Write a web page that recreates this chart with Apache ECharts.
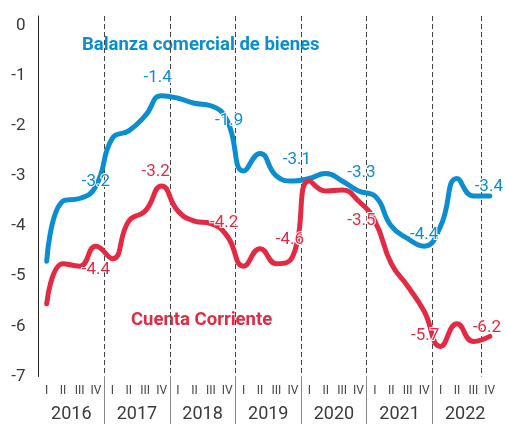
<!DOCTYPE html>
<html>
<head>
<meta charset="utf-8">
<script src="https://cdn.jsdelivr.net/npm/echarts@6/dist/echarts.min.js"></script>
<style>
  html, body { margin: 0; padding: 0; background: #fff; }
  #chart { width: 505px; height: 424px; }
</style>
</head>
<body>
<div id="chart"></div>
<script>
// Quarterly series, % of GDP (rolling four quarters), 2016 Q1 – 2022 Q4
const years = ['2016', '2017', '2018', '2019', '2020', '2021', '2022'];
const quarterNames = ['I', 'II', 'III', 'IV'];

const balanzaBienes = [
  -4.7, -3.5, -3.45, -3.2,
  -2.25, -2.1, -1.8, -1.4,
  -1.45, -1.55, -1.6, -1.9,
  -2.9, -2.55, -3.0, -3.1,
  -3.05, -2.95, -3.1, -3.3,
  -3.4, -4.0, -4.25, -4.4,
  -4.0, -3.05, -3.4, -3.4
];

const cuentaCorriente = [
  -5.55, -4.75, -4.8, -4.4,
  -4.65, -3.9, -3.7, -3.2,
  -3.7, -3.9, -3.95, -4.2,
  -4.8, -4.45, -4.75, -4.6,
  -3.1, -3.3, -3.28, -3.5,
  -3.9, -4.75, -5.2, -5.7,
  -6.4, -5.95, -6.3, -6.2
];

const yMin = -7;
const yMax = 0.19;
const yStep = 1;

const BLUE = '#0b8dd2';
const RED = '#e42a43';
const FONT = 'Roboto, "Noto Sans", sans-serif';

// one category per quarter
const quarters = [];
years.forEach(y => quarterNames.forEach(q => quarters.push(y + ' ' + q)));

// year-end value labels: pixel nudges so they sit clear of the lines
const blueLabelOffsets = [[0, -4], [-4, -18], [2, 0], [4, -21], [3, -18], [0, -11], [-1, -9]];
const redLabelOffsets = [[0, 24], [-6, -14], [-3, -13], [-3, -16], [3, 20], [1, 24], [-3, -9]];

function withYearEndLabels(values, offsets, color) {
  return values.map((v, i) => {
    if (i % 4 !== 3) return v;
    const off = offsets[(i - 3) / 4];
    return {
      value: v,
      label: {
        show: true,
        position: 'inside',
        offset: off,
        formatter: p => p.value.toFixed(1),
        color: color,
        fontFamily: FONT,
        fontSize: 17,
        textBorderColor: '#fff',
        textBorderWidth: 2
      }
    };
  });
}

const chart = echarts.init(document.getElementById('chart'), null, { renderer: 'canvas' });

chart.setOption({
  animation: false,
  backgroundColor: '#fff',
  grid: [
    { left: 38.5, right: 7, top: 16, bottom: 47.5, outerBoundsMode: 'none' },
    { left: 38.5, right: 7, top: 377, bottom: 0, outerBoundsMode: 'none' }
  ],
  xAxis: [
    {
      type: 'category',
      gridIndex: 0,
      data: quarters,
      boundaryGap: true,
      axisLine: { show: false },
      axisTick: { show: false },
      axisLabel: {
        interval: 0,
        margin: 8,
        color: '#444',
        fontFamily: FONT,
        fontSize: 12,
        formatter: v => v.split(' ')[1]
      },
      splitLine: {
        show: true,
        interval: 3,
        showMinLine: false,
        showMaxLine: false,
        lineStyle: { color: '#444', width: 1, type: [5, 3] }
      }
    },
    {
      type: 'category',
      gridIndex: 1,
      data: years,
      boundaryGap: true,
      position: 'bottom',
      axisLine: { show: false },
      axisTick: { show: false },
      axisLabel: {
        inside: true,
        margin: 1,
        color: '#3a3a3a',
        fontFamily: FONT,
        fontSize: 18
      },
      splitLine: {
        show: true,
        interval: 0,
        showMinLine: false,
        showMaxLine: false,
        lineStyle: { color: '#888', width: 1, type: 'solid' }
      }
    }
  ],
  yAxis: [
    {
      type: 'value',
      gridIndex: 0,
      min: yMin,
      max: yMax,
      interval: yStep,
      axisLine: { show: true, lineStyle: { color: '#222', width: 1 } },
      axisTick: { show: false },
      splitLine: { show: false },
      axisLabel: {
        margin: 13,
        color: '#3a3a3a',
        fontFamily: FONT,
        fontSize: 17,
        formatter: v => (Number.isInteger(Math.round(v * 1000) / 1000) ? String(Math.round(v)) : '')
      }
    },
    {
      type: 'value',
      gridIndex: 1,
      show: false,
      min: 0,
      max: 1
    }
  ],
  series: [
    {
      name: 'Balanza comercial de bienes',
      type: 'line',
      xAxisIndex: 0,
      yAxisIndex: 0,
      data: withYearEndLabels(balanzaBienes, blueLabelOffsets, BLUE),
      smooth: 0.5,
      symbol: 'circle',
      symbolSize: 0,
      showSymbol: true,
      showAllSymbol: true,
      lineStyle: { color: BLUE, width: 5, cap: 'round', join: 'round' },
      itemStyle: { color: BLUE },
      z: 3
    },
    {
      name: 'Cuenta Corriente',
      type: 'line',
      xAxisIndex: 0,
      yAxisIndex: 0,
      data: withYearEndLabels(cuentaCorriente, redLabelOffsets, RED),
      smooth: 0.5,
      symbol: 'circle',
      symbolSize: 0,
      showSymbol: true,
      showAllSymbol: true,
      lineStyle: { color: RED, width: 5, cap: 'round', join: 'round' },
      itemStyle: { color: RED },
      z: 4
    }
  ],
  graphic: [
    {
      type: 'text',
      left: 82,
      top: 36,
      style: { text: 'Balanza comercial de bienes', fill: BLUE, font: 'bold 18.5px ' + FONT }
    },
    {
      type: 'text',
      left: 131,
      top: 311,
      style: { text: 'Cuenta Corriente', fill: RED, font: 'bold 18.5px ' + FONT }
    }
  ]
});
</script>
</body>
</html>
